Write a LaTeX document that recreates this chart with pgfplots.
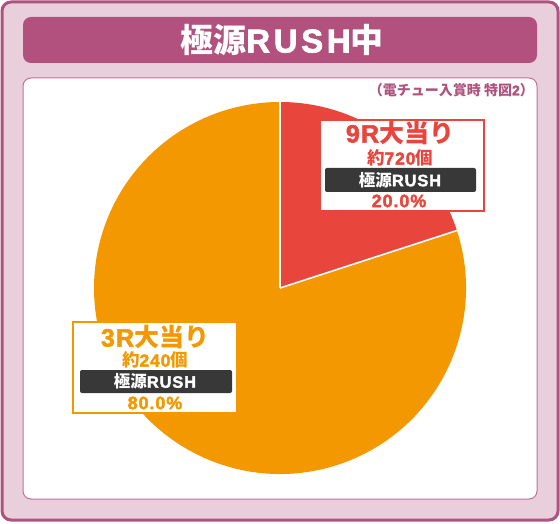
\documentclass[border=0pt]{standalone}
\usepackage{pgfplots}
\pgfplotsset{compat=1.18}
\usepackage{pgfplotstable}
\usepackage{fontspec}
\setmainfont{Noto Sans CJK JP}
\newfontfamily\lat{Liberation Sans}[UprightFont=* Bold,BoldFont=* Bold,FakeBold=2,LetterSpace=5]
\newfontfamily\latw{Liberation Sans}[UprightFont=* Bold,BoldFont=* Bold,FakeBold=2,LetterSpace=11]
\definecolor{framecol}{HTML}{B0527E}
\definecolor{framefill}{HTML}{E9CFDC}
\definecolor{bannercol}{HTML}{B2517D}
\definecolor{innerborder}{HTML}{C2709A}
\definecolor{slicered}{HTML}{E8463D}
\definecolor{sliceorange}{HTML}{F39800}
\definecolor{darkbox}{HTML}{383838}
\pgfplotstableread{
label share
9R 20
3R 80
}\piedata
\begin{document}
\begin{tikzpicture}
\pgfplotstablegetelem{0}{share}\of\piedata
\pgfmathsetmacro\redshare{\pgfplotsretval}
\pgfplotstablegetelem{1}{share}\of\piedata
\pgfmathsetmacro\orangeshare{\pgfplotsretval}
\pgfmathsetmacro\redend{90-3.6*\redshare}
\pgfmathsetmacro\orangeend{\redend-3.6*\orangeshare}
\begin{axis}[x=1pt,y=1pt,xmin=0,xmax=560,ymin=0,ymax=523,hide axis,clip=false]
% outer frame
\fill[white] (axis cs:0,0) rectangle (axis cs:560,523);
\draw[framecol,fill=framefill,line width=3pt,rounded corners=9pt] (axis cs:2,3) rectangle (axis cs:558,521);
% banner
\fill[bannercol,rounded corners=8pt] (axis cs:23,460) rectangle (axis cs:537,506);
\node[text=white,font=\fontsize{33}{33}\selectfont\bfseries,inner sep=0pt] at (axis cs:282,483) {極源{\latw RUSH}中};
% inner white box
\draw[innerborder,fill=white,line width=1pt,rounded corners=8pt] (axis cs:23,24) rectangle (axis cs:537,445);
\node[anchor=east,text=framecol,font=\fontsize{14}{14}\selectfont\bfseries,inner sep=0pt] at (axis cs:534,433) {（電チュー入賞時 特図{\lat 2}）};
% pie
\fill[slicered] (axis cs:280,235) -- (axis cs:280,421) arc[start angle=90,end angle=\redend,radius=186] -- cycle;
\fill[sliceorange] (axis cs:280,235) -- (axis cs:{280+186*cos(\redend)},{235+186*sin(\redend)}) arc[start angle=\redend,end angle=\orangeend,radius=186] -- cycle;
\draw[white,line width=1.6pt] (axis cs:280,235) -- (axis cs:280,421);
\draw[white,line width=1.6pt] (axis cs:280,235) -- (axis cs:{280+186*cos(\redend)},{235+186*sin(\redend)});
% red label
\draw[slicered,fill=white,line width=2.2pt] (axis cs:320,312) rectangle (axis cs:484,403);
\node[text=slicered,font=\fontsize{25}{25}\selectfont\bfseries,inner sep=0pt] at (axis cs:400,390) {{\lat 9R}大当り};
\node[text=slicered,font=\fontsize{17.5}{17.5}\selectfont\bfseries,inner sep=0pt] at (axis cs:400,365) {約{\lat 720}個};
\fill[darkbox,rounded corners=2pt] (axis cs:325,331) rectangle (axis cs:476,355);
\node[text=white,font=\fontsize{16.5}{16.5}\selectfont\bfseries,inner sep=0pt] at (axis cs:400,343) {極源{\lat RUSH}};
\node[text=slicered,font=\fontsize{18}{18}\selectfont\bfseries,inner sep=0pt] at (axis cs:399,322) {\lat 20.0\%};
% orange label
\draw[sliceorange,fill=white,line width=2.2pt] (axis cs:73,110) rectangle (axis cs:237,201);
\node[text=sliceorange,font=\fontsize{25}{25}\selectfont\bfseries,inner sep=0pt] at (axis cs:155,186) {{\lat 3R}大当り};
\node[text=sliceorange,font=\fontsize{17.5}{17.5}\selectfont\bfseries,inner sep=0pt] at (axis cs:155,163) {約{\lat 240}個};
\fill[darkbox,rounded corners=2pt] (axis cs:80,130) rectangle (axis cs:232,153);
\node[text=white,font=\fontsize{16.5}{16.5}\selectfont\bfseries,inner sep=0pt] at (axis cs:155,141.5) {極源{\lat RUSH}};
\node[text=sliceorange,font=\fontsize{18}{18}\selectfont\bfseries,inner sep=0pt] at (axis cs:155,120) {\lat 80.0\%};
\end{axis}
\end{tikzpicture}
\end{document}
